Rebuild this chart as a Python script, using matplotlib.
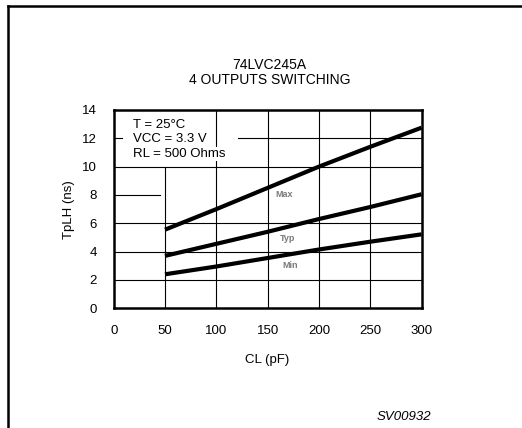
import numpy as np
import matplotlib
matplotlib.use('Agg')
import matplotlib.pyplot as plt
from matplotlib.lines import Line2D

plt.rcParams['font.family'] = ['Liberation Sans', 'DejaVu Sans']

# нагрузочная ёмкость и задержки
cl = [50, 100, 150, 200, 250, 300]
t_max = [5.55, 7.0, 8.5, 10.0, 11.4, 12.75]
t_typ = [3.7, 4.55, 5.4, 6.3, 7.15, 8.05]
t_min = [2.4, 2.95, 3.55, 4.15, 4.7, 5.22]

x_ticks = [0, 50, 100, 150, 200, 250, 300]
y_ticks = [0, 2, 4, 6, 8, 10, 12, 14]
conditions = ['T = 25°C', 'VCC = 3.3 V', 'RL = 500 Ohms']

fs = 9.5

fig = plt.figure(figsize=(5.22, 4.28), dpi=100)
ax = fig.add_axes([0.2178, 0.2797, 0.5897, 0.4633])
ax.set_xlim(0, 300)
ax.set_ylim(0, 14)

# сетка, местами прерванная (как в даташите)
for y in y_ticks[1:-1]:
    if y == 12:
        ax.plot([0, 8], [y, y], color='black', lw=0.8)
        ax.plot([121, 300], [y, y], color='black', lw=0.8)
    elif y == 8:
        ax.plot([0, 45], [y, y], color='black', lw=0.8)
    else:
        ax.plot([0, 300], [y, y], color='black', lw=0.8)
for x in x_ticks[1:-1]:
    if x == 50:
        ax.plot([x, x], [0, 10], color='black', lw=0.8)
    else:
        ax.plot([x, x], [0, 14], color='black', lw=0.8)

ax.plot(cl, t_max, color='black', lw=3.0, solid_capstyle='butt')
ax.plot(cl, t_typ, color='black', lw=3.0, solid_capstyle='butt')
ax.plot(cl, t_min, color='black', lw=3.0, solid_capstyle='butt')

ax.text(166, 8.05, 'Max', fontsize=6.5, color='#7a7a7a', fontweight='bold', ha='center', va='center')
ax.text(169, 4.95, 'Typ', fontsize=6.5, color='#7a7a7a', fontweight='bold', ha='center', va='center')
ax.text(172, 3.0, 'Min', fontsize=6.5, color='#7a7a7a', fontweight='bold', ha='center', va='center')

for i, s in enumerate(conditions):
    ax.text(18.5, 12.95 - i * 1.03, s, fontsize=fs, ha='left', va='center',
            bbox=dict(facecolor='white', edgecolor='none', pad=0.5))

for sp in ax.spines.values():
    sp.set_linewidth(1.8)

ax.set_xticks(x_ticks)
ax.set_yticks(y_ticks)
ax.tick_params(length=0, labelsize=fs)
ax.tick_params(axis='x', pad=12)
ax.tick_params(axis='y', pad=12)
ax.set_xlabel('CL (pF)', fontsize=fs, labelpad=12)
ax.set_ylabel('TpLH (ns)', fontsize=fs, labelpad=5)

fig.text(0.5165, 1 - 65 / 428, '74LVC245A', fontsize=10, ha='center', va='center')
fig.text(0.5165, 1 - 80.5 / 428, '4 OUTPUTS SWITCHING', fontsize=10, ha='center', va='center')
fig.text(377 / 522, 1 - 417 / 428, 'SV00932', fontsize=fs, style='italic', ha='left', va='center')

# рамка слева и сверху
fig.add_artist(Line2D([8 / 522, 8 / 522], [0, 1 - 5.7 / 428], color='black', lw=1.8, transform=fig.transFigure))
fig.add_artist(Line2D([8 / 522, 1], [1 - 5.7 / 428, 1 - 5.7 / 428], color='black', lw=1.8, transform=fig.transFigure))

fig.savefig('out.png', dpi=100)
